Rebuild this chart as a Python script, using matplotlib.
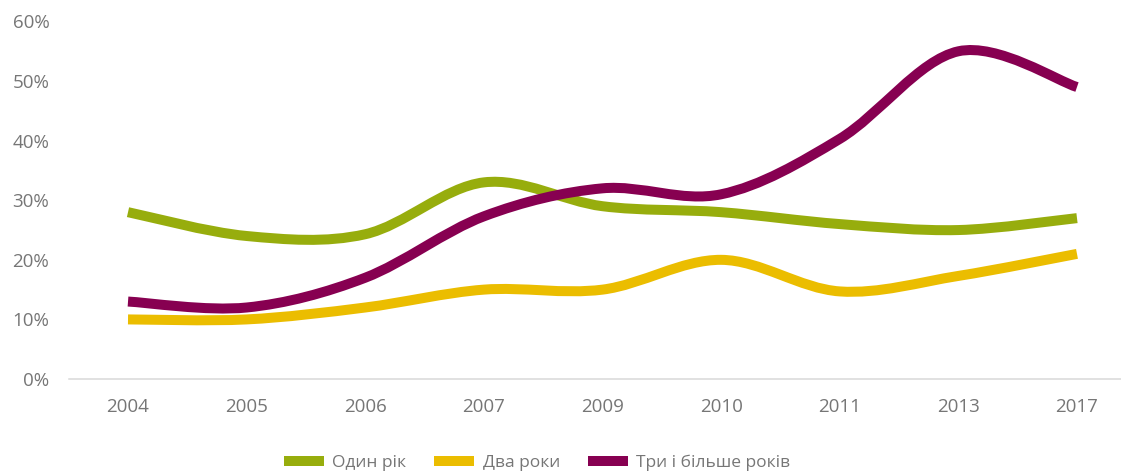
#!/usr/bin/env python3
import matplotlib
matplotlib.use('Agg')
import matplotlib.pyplot as plt
from matplotlib.path import Path
from matplotlib.patches import PathPatch, Patch
from matplotlib.ticker import FuncFormatter

years = ['2004', '2005', '2006', '2007', '2009', '2010', '2011', '2013', '2017']
one_year = [28, 24, 24.3, 33, 29, 28, 26, 25, 27]
two_years = [10, 10, 12, 15, 15, 20, 14.7, 17.3, 21]
three_plus = [13, 12, 17, 27.3, 32, 31, 40.3, 55, 49]

labels = ['Один рік', 'Два роки', 'Три і більше років']
colors = ['#97ad0d', '#ebbd00', '#870051']

plt.rcParams['font.family'] = ['Open Sans', 'DejaVu Sans']


def smooth_path(xs, ys):
    # excel-like smoothed line: cubic bezier with catmull-rom tangents
    n = len(xs)
    verts = [(xs[0], ys[0])]
    codes = [Path.MOVETO]
    for i in range(n - 1):
        p0 = (xs[max(i - 1, 0)], ys[max(i - 1, 0)])
        p1 = (xs[i], ys[i])
        p2 = (xs[i + 1], ys[i + 1])
        p3 = (xs[min(i + 2, n - 1)], ys[min(i + 2, n - 1)])
        c1 = (p1[0] + (p2[0] - p0[0]) / 6, p1[1] + (p2[1] - p0[1]) / 6)
        c2 = (p2[0] - (p3[0] - p1[0]) / 6, p2[1] - (p3[1] - p1[1]) / 6)
        verts += [c1, c2, p2]
        codes += [Path.CURVE4] * 3
    return Path(verts, codes)


def main():
    fig = plt.figure(figsize=(11.21, 4.74), dpi=100)
    ax = fig.add_axes([68.7 / 1121, 95 / 474, 1067.6 / 1121, 357.5 / 474])

    x = list(range(len(years)))
    for vals, c in zip([one_year, two_years, three_plus], colors):
        ax.add_patch(PathPatch(smooth_path(x, vals), facecolor='none',
                               edgecolor=c, lw=7.2, capstyle='butt',
                               joinstyle='round'))

    ax.set_xlim(-0.5, len(years) - 0.5)
    ax.set_ylim(0, 60)
    ax.set_xticks(x)
    ax.set_xticklabels(years)
    ax.set_yticks(range(0, 61, 10))
    ax.yaxis.set_major_formatter(FuncFormatter(lambda v, p: f'{v:.0f}%'))

    for s in ['top', 'right', 'left']:
        ax.spines[s].set_visible(False)
    ax.spines['bottom'].set_color('#d9d9d9')
    ax.spines['bottom'].set_linewidth(1.1)
    ax.tick_params(axis='both', length=0, labelsize=13.5, colors='#767676')
    ax.tick_params(axis='y', pad=14)
    ax.tick_params(axis='x', pad=14)

    handles = [Patch(facecolor=c, edgecolor='none') for c in colors]
    fig.legend(handles, labels, loc='center', bbox_to_anchor=(537 / 1121, 1 - 463 / 474),
               ncol=3, frameon=False, fontsize=12.5, labelcolor='#767676',
               handlelength=2.3, handleheight=0.57, handletextpad=0.5,
               columnspacing=1.6)

    fig.savefig('out.png', dpi=100)


if __name__ == '__main__':
    main()
